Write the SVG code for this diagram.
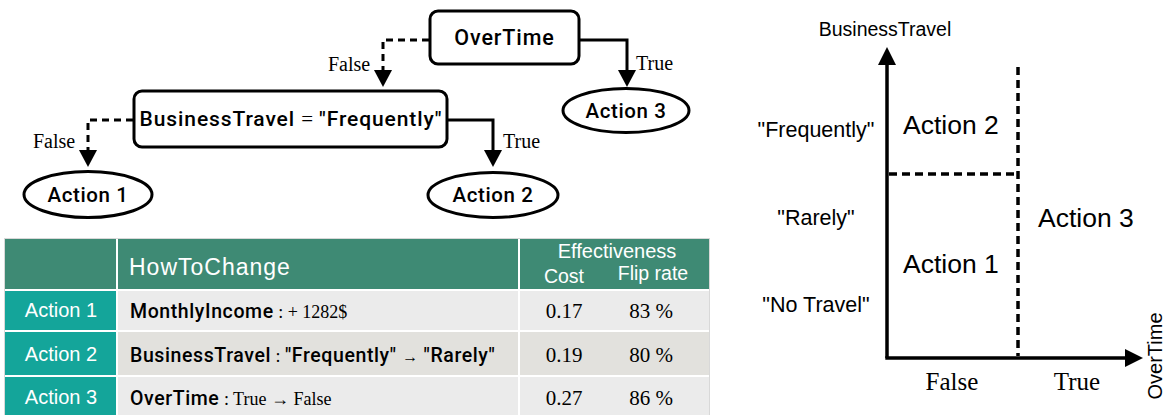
<svg xmlns="http://www.w3.org/2000/svg" width="1166" height="415" viewBox="0 0 1166 415">
<defs>
<style>
.sans{font-family:"Liberation Sans",Arial,sans-serif}
.serif{font-family:"Liberation Serif","Times New Roman",serif;letter-spacing:0}
.med{font-family:Roboto,"Liberation Sans",Arial,sans-serif;font-weight:500;letter-spacing:0.6px}
.box{fill:#fff;stroke:#000;stroke-width:3}
.ln{fill:none;stroke:#000;stroke-width:3}
.dash{fill:none;stroke:#000;stroke-width:3;stroke-dasharray:7 5}
.cdash{fill:none;stroke:#000;stroke-width:3.5;stroke-dasharray:8 5}
.ax{fill:none;stroke:#000;stroke-width:3.5}
.hdr{fill:#3e8a74}
.act{fill:#14a59a}
.r1{fill:#ebebeb}
.r2{fill:#e2e1dd}
.wt{fill:#fff}
</style>
</defs>
<rect width="1166" height="415" fill="#fff"/>

<!-- Tree connectors -->
<g id="connectors">
<path class="dash" d="M429,40 H383 V70"/>
<polygon points="374,70 392,70 383,87"/>
<path class="ln" d="M579,40 H627 V70"/>
<polygon points="618,70 636,70 627,87"/>
<path class="dash" d="M133,120 H88 V150"/>
<polygon points="79,150 97,150 88,167"/>
<path class="ln" d="M447,120 H493 V150"/>
<polygon points="484,150 502,150 493,167"/>
<text class="serif" x="328" y="71" font-size="20">False</text>
<text class="serif" x="33" y="148" font-size="20">False</text>
<text class="serif" x="636" y="70" font-size="20">True</text>
<text class="serif" x="503" y="148" font-size="20">True</text>
</g>

<g id="node-overtime">
<rect class="box" x="430" y="11" width="149" height="53" rx="8"/>
<text class="med" x="504.5" y="45" font-size="21.5" text-anchor="middle" style="letter-spacing:0.9px">OverTime</text>
</g>
<g id="node-businesstravel">
<rect class="box" x="134" y="91" width="313" height="56" rx="8"/>
<text class="med" x="291" y="126" font-size="21" text-anchor="middle" style="letter-spacing:0.9px">BusinessTravel <tspan class="serif" font-weight="normal">=</tspan> "Frequently"</text>
</g>
<g id="node-action1">
<ellipse class="box" cx="88" cy="194.5" rx="64" ry="23"/>
<text class="med" x="88" y="202" font-size="20.5" text-anchor="middle">Action 1</text>
</g>
<g id="node-action2">
<ellipse class="box" cx="493" cy="195" rx="65" ry="22.5"/>
<text class="med" x="493" y="202" font-size="20.5" text-anchor="middle">Action 2</text>
</g>
<g id="node-action3">
<ellipse class="box" cx="626" cy="110.5" rx="63" ry="22"/>
<text class="med" x="626" y="118" font-size="20.5" text-anchor="middle">Action 3</text>
</g>

<!-- Table -->
<g id="table">
<rect x="4" y="238" width="706" height="177" fill="#d8d8d8"/>
<rect class="hdr" x="5" y="239" width="111" height="50"/>
<rect class="hdr" x="118" y="239" width="400" height="50"/>
<rect class="hdr" x="520" y="239" width="189" height="50"/>
<rect class="act" x="5" y="291" width="111" height="39"/>
<rect class="act" x="5" y="332" width="111" height="43"/>
<rect class="act" x="5" y="377" width="111" height="38"/>
<rect class="r1" x="118" y="291" width="400" height="39"/>
<rect class="r1" x="520" y="291" width="189" height="39"/>
<rect class="r2" x="118" y="332" width="400" height="43"/>
<rect class="r2" x="520" y="332" width="189" height="43"/>
<rect class="r1" x="118" y="377" width="400" height="38"/>
<rect class="r1" x="520" y="377" width="189" height="38"/>
<line x1="5" y1="290" x2="709" y2="290" stroke="#fff" stroke-width="2"/>
<line x1="5" y1="331" x2="709" y2="331" stroke="#fff" stroke-width="2"/>
<line x1="5" y1="376" x2="709" y2="376" stroke="#fff" stroke-width="2"/>
<line x1="117" y1="239" x2="117" y2="415" stroke="#fff" stroke-width="2"/>
<line x1="519" y1="239" x2="519" y2="415" stroke="#fff" stroke-width="2"/>

<text class="sans wt" x="129" y="275" font-size="23" style="letter-spacing:1px">HowToChange</text>
<text class="sans wt" x="617" y="258" font-size="20" text-anchor="middle">Effectiveness</text>
<text class="sans wt" x="564" y="283" font-size="19.5" text-anchor="middle">Cost</text>
<text class="sans wt" x="653" y="280" font-size="19.5" text-anchor="middle">Flip rate</text>

<text class="sans wt" x="61" y="317" font-size="20" text-anchor="middle">Action 1</text>
<text class="sans wt" x="61" y="361" font-size="20" text-anchor="middle">Action 2</text>
<text class="sans wt" x="61" y="404" font-size="20" text-anchor="middle">Action 3</text>

<text class="med" x="130" y="318" font-size="19.5">MonthlyIncome<tspan class="serif" font-weight="normal" font-size="18"> : + 1282$</tspan></text>
<text class="med" x="130" y="362" font-size="19.5">BusinessTravel<tspan class="serif" font-weight="normal" font-size="18"> : </tspan>"Frequently" <tspan class="serif" font-weight="normal" font-size="16">→</tspan> "Rarely"</text>
<text class="med" x="130" y="405" font-size="19.5">OverTime<tspan class="serif" font-weight="normal" font-size="18"> : True → False</tspan></text>

<text class="serif" x="564" y="318" font-size="21" text-anchor="middle">0.17</text>
<text class="serif" x="651" y="318" font-size="21" text-anchor="middle">83 %</text>
<text class="serif" x="564" y="362" font-size="21" text-anchor="middle">0.19</text>
<text class="serif" x="651" y="362" font-size="21" text-anchor="middle">80 %</text>
<text class="serif" x="564" y="405" font-size="21" text-anchor="middle">0.27</text>
<text class="serif" x="651" y="405" font-size="21" text-anchor="middle">86 %</text>
</g>

<!-- Chart -->
<g id="chart">
<line class="ax" x1="887" y1="358" x2="887" y2="63"/>
<polygon points="878,65 896,65 887,47"/>
<line class="ax" x1="885.3" y1="358" x2="1127" y2="358"/>
<polygon points="1125,349 1125,367 1143,358"/>
<line class="cdash" x1="1018" y1="67" x2="1018" y2="356"/>
<line class="cdash" x1="889" y1="174" x2="1018" y2="174"/>
<text class="sans" x="885" y="36" font-size="19.5" text-anchor="middle">BusinessTravel</text>
<text class="sans" x="816" y="137" font-size="21.5" text-anchor="middle">"Frequently"</text>
<text class="sans" x="816" y="225" font-size="21.5" text-anchor="middle">"Rarely"</text>
<text class="sans" x="816" y="312" font-size="21.5" text-anchor="middle">"No Travel"</text>
<text class="sans" x="903" y="134" font-size="26.5">Action 2</text>
<text class="sans" x="903" y="273" font-size="26.5">Action 1</text>
<text class="sans" x="1038" y="227" font-size="26.5">Action 3</text>
<text class="serif" x="952" y="390" font-size="25" text-anchor="middle">False</text>
<text class="serif" x="1077" y="390" font-size="25" text-anchor="middle">True</text>
<text class="sans" transform="translate(1162,356) rotate(-90)" font-size="20" text-anchor="middle">OverTime</text>
</g>
</svg>
